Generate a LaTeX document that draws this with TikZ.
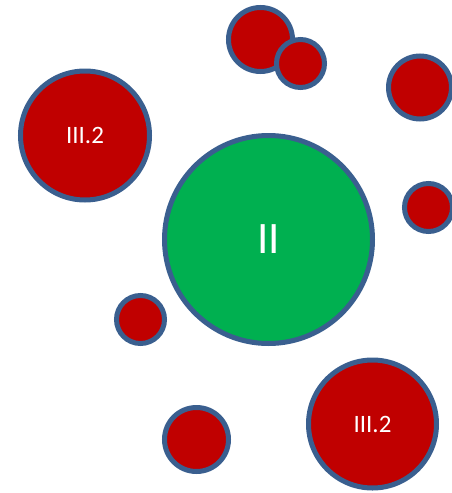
\documentclass[tikz,border=0pt]{standalone}
\usepackage{fontspec}
\setmainfont{Carlito}
\definecolor{redfill}{HTML}{C00000}
\definecolor{greenfill}{HTML}{00B050}
\definecolor{rim}{HTML}{3A5F8F}
\begin{document}
\begin{tikzpicture}[x=1pt,y=-1pt,
  ball/.style={circle,draw=rim,line width=5pt,inner sep=0pt,text=white},
  redball/.style={ball,fill=redfill},
  greenball/.style={ball,fill=greenfill}]
\useasboundingbox (0,0) rectangle (452,493);
\node[greenball,minimum size=208pt,font=\fontsize{45}{45}\selectfont] (ii) at (268.5,239.5) {II};
\node[redball,minimum size=129pt,font=\fontsize{25}{25}\selectfont] (lt) at (85,135.5) {III.2};
\node[redball,minimum size=128pt,font=\fontsize{25}{25}\selectfont] (rb) at (372.5,424) {III.2};
\node[redball,minimum size=64pt] (a) at (260.5,39.5) {};
\node[redball,minimum size=48pt] (b) at (300.5,63.5) {};
\node[redball,minimum size=63pt] (c) at (420,87.5) {};
\node[redball,minimum size=48pt] (d) at (428.5,207.5) {};
\node[redball,minimum size=48pt] (e) at (140.5,319.5) {};
\node[redball,minimum size=64pt] (f) at (196.5,439.5) {};
\end{tikzpicture}
\end{document}
